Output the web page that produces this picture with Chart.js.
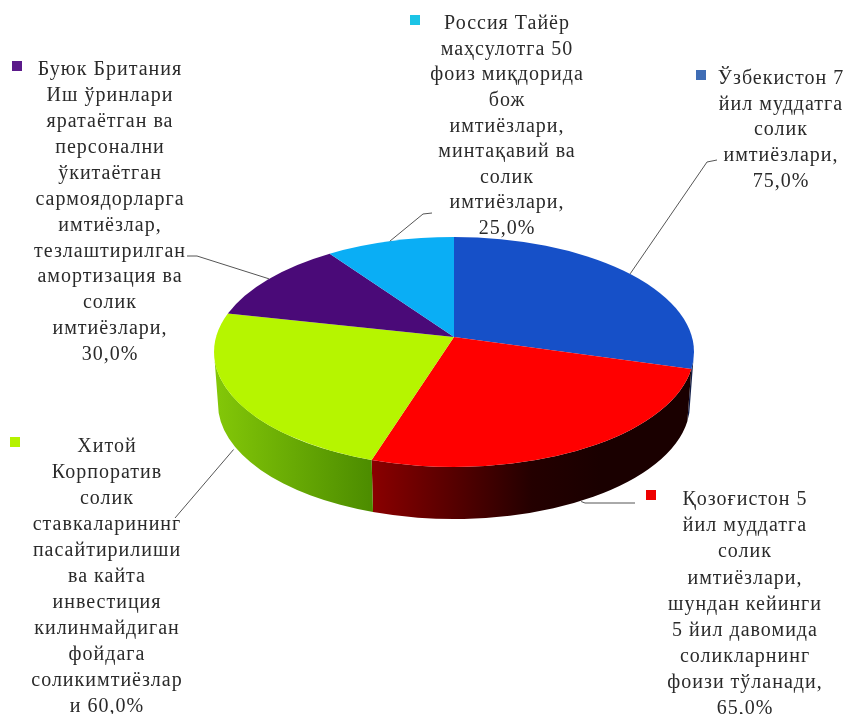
<!DOCTYPE html>
<html>
<head>
<meta charset="utf-8">
<style>
  html, body { margin: 0; padding: 0; background: #fff; }
  canvas { display: block; filter: blur(0.6px); }
</style>
<script src="https://cdn.jsdelivr.net/npm/chart.js@4"></script>
</head>
<body>
<canvas id="taxChart" width="848" height="714"></canvas>
<script>
const categories = ['Ўзбекистон', 'Қозоғистон', 'Хитой', 'Буюк Британия', 'Россия'];
const values = [75, 65, 60, 30, 25];
const percentLabels = ['75,0%', '65,0%', '60,0%', '30,0%', '25,0%'];

const uzbekistanLines = ['Ўзбекистон 7', 'йил муддатга', 'солик', 'имтиёзлари,'];
const kazakhstanLines = ['Қозоғистон 5', 'йил муддатга', 'солик', 'имтиёзлари,', 'шундан кейинги', '5 йил давомида', 'соликларнинг', 'фоизи тўланади,'];
const chinaLines = ['Хитой', 'Корпоратив', 'солик', 'ставкаларининг', 'пасайтирилиши', 'ва кайта', 'инвестиция', 'килинмайдиган', 'фойдага', 'соликимтиёзлар'];
const britainLines = ['Буюк Британия', 'Иш ўринлари', 'яратаётган ва', 'персонални', 'ўкитаётган', 'сармоядорларга', 'имтиёзлар,', 'тезлаштирилган', 'амортизация ва', 'солик', 'имтиёзлари,'];
const russiaLines = ['Россия Тайёр', 'маҳсулотга 50', 'фоиз миқдорида', 'бож', 'имтиёзлари,', 'минтақавий ва', 'солик', 'имтиёзлари,'];

const topColors = ['#1650c8', '#ff0000', '#b6f500', '#4a0a78', '#0aaef5'];
const markerColors = ['#3f6db5', '#ee0000', '#b5f200', '#5b1a8a', '#1cc4e6'];

// where each label block sits: centre x, first line y, line step, marker, leader bend points
const labelBoxes = [
  { lines: uzbekistanLines, x: 781, y: 79, step: 25.6, mark: [701, 75], leader: [[707, 162], [717, 160]] },
  { lines: kazakhstanLines, x: 745, y: 500, step: 26.1, mark: [651, 495], leader: [[585, 503], [635, 503]] },
  { lines: chinaLines, x: 107, y: 447, step: 26, mark: [15, 442], leader: [[175, 518]] },
  { lines: britainLines, x: 110, y: 70, step: 25.9, mark: [17, 66], leader: [[197, 256], [187, 256]] },
  { lines: russiaLines, x: 507, y: 24, step: 25.6, mark: [415, 20], leader: [[423, 214], [432, 213]] }
];

const SQUASH = 0.479;   // tilt of the disc
const TILT_K = -0.13;   // perspective, moves the apex up from the ellipse centre
const DEPTH = 52;

function rimPoint(arc, angle) {
  const u = Math.cos(angle), v = Math.sin(angle);
  const d = 1 + TILT_K * v;
  return {
    x: arc.x + arc.outerRadius * u * Math.sqrt(1 - TILT_K * TILT_K) / d,
    y: arc.y + arc.outerRadius * SQUASH * (v + TILT_K) / d
  };
}

function rimPhi(arc, angle) {
  const p = rimPoint(arc, angle);
  return Math.atan2((p.y - arc.y) / SQUASH, p.x - arc.x);
}

function drawWall(ctx, arc, from, to, fill) {
  const rx = arc.outerRadius, ry = rx * SQUASH, bx = rx - 4;
  ctx.beginPath();
  ctx.ellipse(arc.x, arc.y, rx, ry, 0, from, to, false);
  ctx.ellipse(arc.x, arc.y + DEPTH, bx, bx * SQUASH + 2, 0, to, from, true);
  ctx.closePath();
  ctx.fillStyle = fill;
  ctx.fill();
}

function wallFill(ctx, index) {
  if (index === 1) {
    const g = ctx.createLinearGradient(372, 0, 600, 0);
    g.addColorStop(0, '#8a0000');
    g.addColorStop(0.7, '#240000');
    g.addColorStop(1, '#1a0000');
    return g;
  }
  if (index === 2) {
    const g = ctx.createLinearGradient(214, 0, 372, 0);
    g.addColorStop(0, '#84c808');
    g.addColorStop(1, '#4c8c00');
    return g;
  }
  return '#14204a';
}

const pie3dPlugin = {
  id: 'pie3d',
  beforeDatasetsDraw(chart) {
    const ctx = chart.ctx;
    const arcs = chart.getDatasetMeta(0).data;
    const PI2 = Math.PI * 2;

    // front wall, only the part of each slice facing the viewer
    arcs.forEach((arc, i) => {
      let a = rimPhi(arc, arc.startAngle), b = rimPhi(arc, arc.endAngle);
      if (a < 0) a += PI2;
      if (b < a) b += PI2;
      [0, PI2].forEach(shift => {
        const from = Math.max(a, shift), to = Math.min(b, shift + Math.PI);
        if (to > from) drawWall(ctx, arc, from, to, wallFill(ctx, i));
      });
    });

    // top face
    arcs.forEach(arc => {
      const apexY = arc.y + arc.outerRadius * SQUASH * TILT_K;
      ctx.beginPath();
      ctx.moveTo(arc.x, apexY);
      ctx.ellipse(arc.x, arc.y, arc.outerRadius, arc.outerRadius * SQUASH, 0,
        rimPhi(arc, arc.startAngle), rimPhi(arc, arc.endAngle), false);
      ctx.closePath();
      ctx.fillStyle = arc.options.backgroundColor;
      ctx.fill();
    });
    return false; // the flat arcs are replaced by the tilted ones
  },
  afterDraw(chart) {
    const ctx = chart.ctx;
    const arcs = chart.getDatasetMeta(0).data;
    ctx.save();
    ctx.font = '20px "Liberation Serif"';
    ctx.letterSpacing = '1px';
    ctx.textAlign = 'center';
    ctx.textBaseline = 'middle';

    labelBoxes.forEach((box, i) => {
      const arc = arcs[i];
      const mid = (arc.startAngle + arc.endAngle) / 2;
      const end = rimPoint(arc, mid);
      if (Math.sin(mid) > 0.3) end.y += DEPTH;

      ctx.strokeStyle = '#555';
      ctx.lineWidth = 1;
      ctx.beginPath();
      ctx.moveTo(end.x, end.y);
      box.leader.forEach(p => ctx.lineTo(p[0], p[1]));
      ctx.stroke();

      ctx.fillStyle = markerColors[i];
      ctx.fillRect(box.mark[0] - 5, box.mark[1] - 5, 10, 10);

      ctx.fillStyle = '#2a2a2a';
      const text = box.lines.slice();
      if (i === 2) text.push('и ' + percentLabels[i]);
      else text.push(percentLabels[i]);
      text.forEach((line, n) => ctx.fillText(line, box.x, box.y + n * box.step));
    });
    ctx.restore();
  }
};

new Chart(document.getElementById('taxChart').getContext('2d'), {
  type: 'pie',
  data: {
    labels: categories,
    datasets: [{ data: values, backgroundColor: topColors, borderWidth: 0 }]
  },
  options: {
    responsive: false,
    animation: false,
    layout: { padding: { left: 214, right: 154, top: 112, bottom: 122 } },
    plugins: { legend: { display: false }, tooltip: { enabled: false } }
  },
  plugins: [pie3dPlugin]
});
</script>
</body>
</html>
